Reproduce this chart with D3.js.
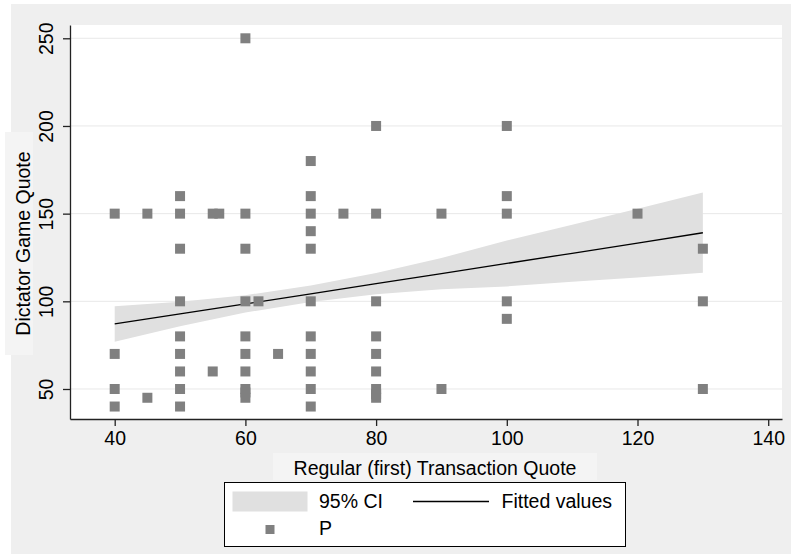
<!DOCTYPE html>
<html>
<head>
<meta charset="utf-8">
<script src="https://cdn.jsdelivr.net/npm/d3@7"></script>
<style>
  body { margin: 0; background: #ffffff; }
  svg text { font-family: "Liberation Sans", Arial, sans-serif; fill: #000; }
</style>
</head>
<body>
<svg id="scatter-fit" width="791" height="554"></svg>
<script>
// Scatter points (P): regular transaction quote vs dictator game quote
let pointX = [
  40, 40, 40, 40,
  45, 45,
  50, 50, 50, 50, 50, 50, 50, 50, 50,
  55, 55, 56,
  60, 60, 60, 60, 60, 60, 60, 60, 60, 60,
  62, 65,
  70, 70, 70, 70, 70, 70, 70, 70, 70, 70, 70,
  75,
  80, 80, 80, 80, 80, 80, 80, 80, 80,
  90, 90,
  100, 100, 100, 100, 100,
  120,
  130, 130, 130
];
let pointY = [
  150, 70, 50, 40,
  150, 45,
  160, 150, 130, 100, 80, 70, 60, 50, 40,
  150, 60, 150,
  250, 150, 130, 100, 80, 70, 60, 50, 48, 45,
  100, 70,
  180, 160, 150, 140, 130, 100, 80, 70, 60, 50, 40,
  150,
  200, 150, 100, 80, 70, 60, 50, 47, 45,
  150, 50,
  200, 160, 150, 100, 90,
  150,
  130, 100, 50
];

// Fitted values and 95% CI
let fitX = [40, 50, 60, 70, 80, 90, 100, 110, 120, 130];
let fitY = [87.1, 92.8, 98.5, 104.3, 110.1, 115.8, 121.6, 127.4, 133.2, 139.1];
let ciLow = [77.0, 85.8, 93.6, 99.6, 104.0, 106.9, 108.5, 111.2, 113.6, 116.3];
let ciHigh = [97.2, 99.8, 103.5, 109.0, 116.2, 124.7, 134.7, 143.6, 152.8, 162.0];

let xTicks = [40, 60, 80, 100, 120, 140];
let yTicks = [50, 100, 150, 200, 250];

create_chart();

function create_chart() {
  let svg = d3.select("#scatter-fit");

  let plot = { left: 70, right: 782, top: 25, bottom: 419 };
  let fontSize = "19.5px";
  let markerColor = "#808080";
  let bandColor = "#e0e0e0";

  // outer grey background
  svg.append("rect")
    .attr("x", 11).attr("y", 4)
    .attr("width", 780).attr("height", 550)
    .attr("fill", "#efefef");

  // plot region
  svg.append("rect")
    .attr("x", plot.left).attr("y", plot.top)
    .attr("width", plot.right - plot.left)
    .attr("height", plot.bottom - plot.top)
    .attr("fill", "#ffffff");

  let x = d3.scaleLinear().domain([33.16, 142.11]).range([plot.left, plot.right]);
  let y = d3.scaleLinear().domain([32.89, 257.58]).range([plot.bottom, plot.top]);

  // gridlines
  svg.append("g")
    .selectAll("line")
    .data(yTicks)
    .enter()
    .append("line")
    .attr("x1", plot.left)
    .attr("x2", plot.right)
    .attr("y1", (d) => y(d))
    .attr("y2", (d) => y(d))
    .attr("stroke", "#e8e8e8")
    .attr("stroke-width", 1);

  let fitData = fitX.map((d, i) => ({ x: d, fit: fitY[i], lo: ciLow[i], hi: ciHigh[i] }));

  // confidence band
  let area = d3.area()
    .x((d) => x(d.x))
    .y0((d) => y(d.lo))
    .y1((d) => y(d.hi));

  svg.append("path")
    .datum(fitData)
    .attr("fill", bandColor)
    .attr("d", area);

  // fitted line
  let line = d3.line()
    .x((d) => x(d.x))
    .y((d) => y(d.fit));

  svg.append("path")
    .datum(fitData)
    .attr("fill", "none")
    .attr("stroke", "#000")
    .attr("stroke-width", 1.3)
    .attr("d", line);

  // scatter squares
  let points = pointX.map((d, i) => ({ x: d, y: pointY[i] }));
  let size = 10;
  svg.append("g")
    .selectAll("rect")
    .data(points)
    .enter()
    .append("rect")
    .attr("x", (d) => x(d.x) - size / 2)
    .attr("y", (d) => y(d.y) - size / 2)
    .attr("width", size)
    .attr("height", size)
    .attr("fill", markerColor);

  // axes
  let xAxis = svg.append("g")
    .attr("transform", "translate(0," + plot.bottom + ")")
    .call(d3.axisBottom(x).tickValues(xTicks).tickSize(7).tickPadding(5).tickSizeOuter(0));
  xAxis.select(".domain").attr("stroke", "#222").attr("stroke-width", 1.3);
  xAxis.selectAll(".tick line").attr("stroke", "#222").attr("stroke-width", 1.3);
  xAxis.selectAll(".tick text")
    .attr("font-family", "Liberation Sans, Arial, sans-serif")
    .style("font-size", fontSize)
    .attr("fill", "#000");

  let yAxis = svg.append("g")
    .attr("transform", "translate(" + plot.left + ",0)")
    .call(d3.axisLeft(y).tickValues(yTicks).tickSize(7).tickSizeOuter(0));
  yAxis.select(".domain").attr("stroke", "#222").attr("stroke-width", 1.3);
  yAxis.selectAll(".tick line").attr("stroke", "#222").attr("stroke-width", 1.3);
  yAxis.selectAll(".tick text")
    .attr("font-family", "Liberation Sans, Arial, sans-serif")
    .style("font-size", fontSize)
    .attr("fill", "#000")
    .attr("x", 0)
    .attr("dy", 0)
    .attr("text-anchor", "middle")
    .attr("transform", "translate(-17.5,0) rotate(-90)");

  // y-axis title box and text
  svg.append("rect")
    .attr("x", 5).attr("y", 132)
    .attr("width", 28).attr("height", 223)
    .attr("fill", "#f4f4f4");
  svg.append("text")
    .attr("transform", "translate(30," + (132 + 223 / 2) + ") rotate(-90)")
    .style("text-anchor", "middle")
    .style("font-size", fontSize)
    .text("Dictator Game Quote");

  // x-axis title box and text
  svg.append("rect")
    .attr("x", 273).attr("y", 453)
    .attr("width", 324).attr("height", 27)
    .attr("fill", "#f4f4f4");
  svg.append("text")
    .attr("x", 435).attr("y", 475)
    .style("text-anchor", "middle")
    .style("font-size", fontSize)
    .text("Regular (first) Transaction Quote");

  // legend
  let legend = svg.append("g").attr("class", "legend");
  legend.append("rect")
    .attr("x", 224.5).attr("y", 482.5)
    .attr("width", 401).attr("height", 64)
    .attr("fill", "#ffffff")
    .attr("stroke", "#000")
    .attr("stroke-width", 1);

  legend.append("rect")
    .attr("x", 232.5).attr("y", 491.5)
    .attr("width", 75).attr("height", 20)
    .attr("fill", bandColor);
  legend.append("text")
    .attr("x", 319).attr("y", 508)
    .style("font-size", fontSize)
    .text("95% CI");

  legend.append("line")
    .attr("x1", 413).attr("x2", 489)
    .attr("y1", 501.5).attr("y2", 501.5)
    .attr("stroke", "#000")
    .attr("stroke-width", 1.3);
  legend.append("text")
    .attr("x", 501.5).attr("y", 508)
    .style("font-size", fontSize)
    .text("Fitted values");

  legend.append("rect")
    .attr("x", 270 - 4.5).attr("y", 529.5 - 4.5)
    .attr("width", 9).attr("height", 9)
    .attr("fill", markerColor);
  legend.append("text")
    .attr("x", 319).attr("y", 535)
    .style("font-size", fontSize)
    .text("P");
}
</script>
</body>
</html>
